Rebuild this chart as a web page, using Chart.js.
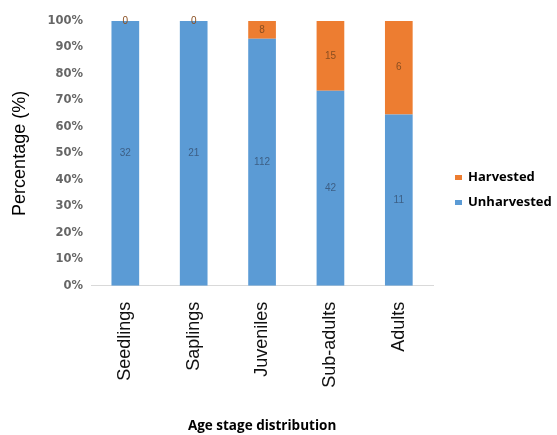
<!DOCTYPE html>
<html>
<head>
<meta charset="utf-8">
<script src="https://cdn.jsdelivr.net/npm/chart.js@4.4.1/dist/chart.umd.min.js"></script>
<style>
  html, body { margin: 0; padding: 0; background: #fff; }
</style>
</head>
<body>
<canvas id="grafico" width="557" height="435"></canvas>
<script>
// === DATA ===
const stages = ["Seedlings", "Saplings", "Juveniles", "Sub-adults", "Adults"];
const unharvested = [32, 21, 112, 42, 11];
const harvested = [0, 0, 8, 15, 6];
const yTicks = [0, 10, 20, 30, 40, 50, 60, 70, 80, 90, 100];

// bars are shares of each stage total, labels keep the raw counts
const totals = stages.map((_, i) => unharvested[i] + harvested[i]);
const pctUnharvested = unharvested.map((v, i) => v / totals[i] * 100);
const pctHarvested = harvested.map((v, i) => v / totals[i] * 100);

const BLUE = "#5B9BD5";
const ORANGE = "#ED7D31";

// === COUNT LABELS IN THE MIDDLE OF EACH SEGMENT ===
const countLabels = {
  id: "countLabels",
  afterDatasetsDraw(chart) {
    const ctx = chart.ctx;
    ctx.save();
    ctx.font = "10px 'Liberation Sans', Arial, sans-serif";
    ctx.textAlign = "center";
    ctx.textBaseline = "middle";
    chart.data.datasets.forEach((ds, d) => {
      const meta = chart.getDatasetMeta(d);
      meta.data.forEach((bar, i) => {
        ctx.fillStyle = ds.labelColor;
        ctx.fillText(String(ds.counts[i]), bar.x, (bar.y + bar.base) / 2);
      });
    });
    ctx.restore();
  }
};

// === LEGEND TO THE RIGHT OF THE PLOT ===
const sideLegend = {
  id: "sideLegend",
  afterDraw(chart) {
    const ctx = chart.ctx;
    const area = chart.chartArea;
    const x = area.right + 22;
    let y = area.top + 156;
    ctx.save();
    ctx.font = "bold 13px 'Open Sans', sans-serif";
    ctx.textBaseline = "middle";
    chart.data.datasets.slice().reverse().forEach(ds => {
      ctx.fillStyle = ds.backgroundColor;
      ctx.fillRect(x, y - 2, 7, 5);
      ctx.fillStyle = "#000";
      ctx.fillText(ds.label, x + 13, y);
      y += 25;
    });
    ctx.restore();
  }
};

new Chart(document.getElementById("grafico"), {
  type: "bar",
  data: {
    labels: stages,
    datasets: [
      {
        label: "Unharvested",
        data: pctUnharvested,
        counts: unharvested,
        backgroundColor: BLUE,
        labelColor: "#3D5F85"
      },
      {
        label: "Harvested",
        data: pctHarvested,
        counts: harvested,
        backgroundColor: ORANGE,
        labelColor: "#8A4E20"
      }
    ]
  },
  options: {
    responsive: false,
    animation: false,
    layout: { padding: { left: 0, right: 124, top: 21, bottom: 0 } },
    datasets: { bar: { barPercentage: 0.81, categoryPercentage: 0.5 } },
    plugins: { legend: { display: false }, tooltip: { enabled: false } },
    scales: {
      x: {
        stacked: true,
        grid: { display: false, drawTicks: false },
        border: { display: true, color: "#D9D9D9", width: 1 },
        ticks: {
          minRotation: 90,
          maxRotation: 90,
          padding: 16,
          color: "#111",
          font: { family: "'Liberation Sans', Arial, sans-serif", size: 18 }
        },
        title: {
          display: true,
          text: "Age stage distribution",
          color: "#000",
          padding: { top: 14, bottom: 1 },
          font: { family: "'Open Sans', sans-serif", size: 13.5, weight: "bold" }
        }
      },
      y: {
        stacked: true,
        min: 0,
        max: 100,
        afterBuildTicks: axis => { axis.ticks = yTicks.map(v => ({ value: v })); },
        grid: { display: false, drawTicks: false },
        border: { display: false },
        ticks: {
          padding: 8,
          color: "#666",
          font: { family: "'DejaVu Sans', sans-serif", size: 11.5, weight: "bold" },
          callback: v => v + "%"
        },
        title: {
          display: true,
          text: "Percentage (%)",
          color: "#000",
          padding: { top: 9, bottom: 9 },
          font: { family: "'Liberation Sans', Arial, sans-serif", size: 18 }
        }
      }
    }
  },
  plugins: [countLabels, sideLegend]
});
</script>
</body>
</html>
